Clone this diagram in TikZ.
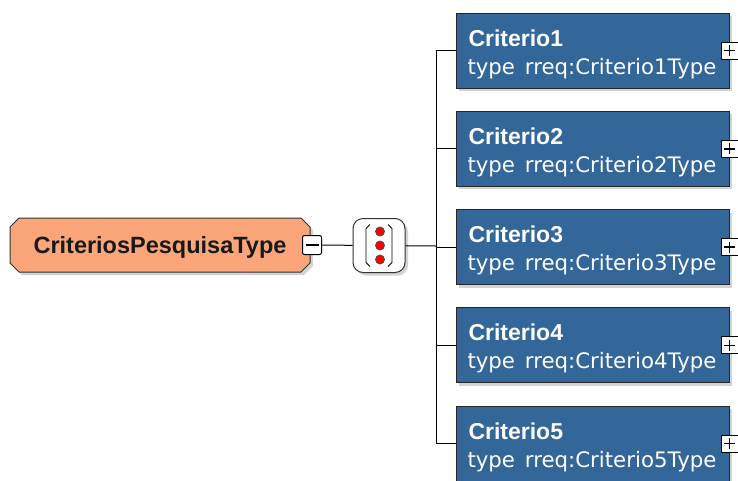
\documentclass[tikz,border=0pt]{standalone}
\usepackage{fontspec}
\setmainfont{Liberation Sans}
\newfontfamily\typefont{DejaVu Sans}
\usetikzlibrary{shapes.misc,shadows,positioning}

\definecolor{elemblue}{RGB}{51,102,153}
\definecolor{cplxorange}{RGB}{250,166,122}

\tikzset{
  softshadow/.style={drop shadow={shadow xshift=3pt,shadow yshift=-3pt,opacity=.35}},
  cplxtype/.style={chamfered rectangle,chamfered rectangle sep=4.5pt,draw=black!80,fill=cplxorange,
    minimum width=300pt,minimum height=54pt,inner sep=0pt,text=black!90,
    font=\fontsize{23.5}{28}\selectfont\bfseries,text height=16.8pt,text depth=0pt,softshadow},
  seqbox/.style={draw=black!80,fill=white,rounded corners=10pt,minimum width=52pt,minimum height=54pt,softshadow},
  elembox/.style={draw=black!85,fill=elemblue,minimum width=273pt,minimum height=75pt,inner sep=0pt,softshadow},
  elemname/.style={anchor=base west,inner sep=0pt,text=white,font=\fontsize{23}{28}\selectfont\bfseries},
  elemtype/.style={anchor=base west,inner sep=0pt,text=white,font=\fontsize{21.3}{24}\selectfont\typefont},
  expander/.style={draw=black,fill=white,minimum size=17pt,inner sep=0pt},
  minusbox/.style={expander,minimum size=19pt,rounded corners=2pt,path picture={\draw[line width=1.4pt] ([xshift=3pt]path picture bounding box.west) -- ([xshift=-3pt]path picture bounding box.east);}},
  plusbox/.style={expander,path picture={\draw[line width=1.4pt] ([xshift=3pt]path picture bounding box.west) -- ([xshift=-3pt]path picture bounding box.east) ([yshift=-3pt]path picture bounding box.north) -- ([yshift=3pt]path picture bounding box.south);}}
}

\begin{document}
\begin{tikzpicture}[x=1pt,y=-1pt,line width=1pt]
\useasboundingbox (0,0) rectangle (738,480);

% complex type and sequence
\node[cplxtype] (root) at (160,245) {CriteriosPesquisaType};
\node[minusbox] (rootminus) at (312,245) {};
\node[seqbox] (seq) at (379,245.5) {};
\begin{scope}[shift={(seq.center)}]
\draw[line width=0.9pt] (-9,-21) -- (-13,-17) -- (-13,17) -- (-9,21);
\draw[line width=0.9pt] (9,-21) -- (13,-17) -- (13,17) -- (9,21);
\foreach \dy in {-14,0,14}
  \filldraw[fill=red,draw=black!70,line width=0.8pt] (1,\dy) circle (4.5pt);
\end{scope}
\coordinate (trunk) at (436,246);
\draw (rootminus) -- (seq);
\draw (seq) -- (trunk);

% child elements
\foreach \i in {1,...,5}{
  \pgfmathsetmacro{\y}{50.5+98.3*(\i-1)}
  \node[elembox] (crit\i) at (592.5,\y) {};
  \node[elemname] (name\i) at (468,\y-4.5) {Criterio\i};
  \node[elemtype] (type\i) at (467,\y+23.5) {type\hspace{3pt} rreq:Criterio\i Type};
  \node[plusbox] (plus\i) at (crit\i.east) {};
  \draw (trunk |- crit\i.west) -- (crit\i.west);
}
\draw (trunk |- crit1.west) -- (trunk |- crit5.west);
\end{tikzpicture}
\end{document}
